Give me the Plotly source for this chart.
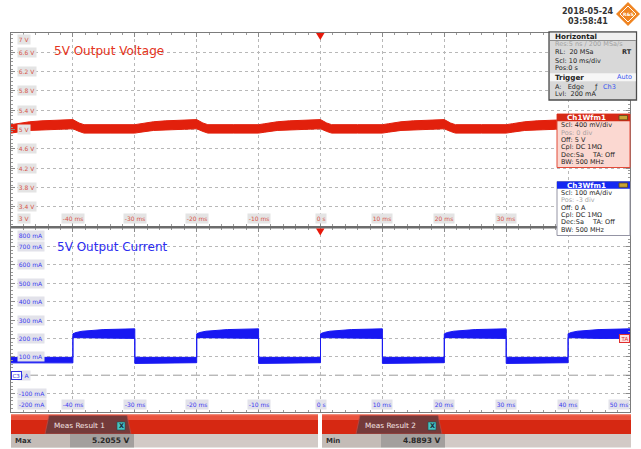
import plotly.graph_objects as go

# ---------------- data ----------------
time_ticks = [-40, -30, -20, -10, 0, 10, 20, 30, 40, 50]
time_labels = ["-40 ms", "-30 ms", "-20 ms", "-10 ms", "0 s", "10 ms", "20 ms", "30 ms", "40 ms", "50 ms"]

volt_ticks = [7, 6.6, 6.2, 5.8, 5.4, 5, 4.6, 4.2, 3.8, 3.4, 3]
volt_labels = ["7 V", "6.6 V", "6.2 V", "5.8 V", "5.4 V", "5 V", "4.6 V", "4.2 V", "3.8 V", "3.4 V", "3 V"]

curr_ticks = [800, 700, 600, 500, 400, 300, 200, 100, 0, -100, -200]
curr_labels = ["800 mA", "700 mA", "600 mA", "500 mA", "400 mA", "300 mA", "200 mA", "100 mA", "0 A", "-100 mA", "-200 mA"]

# voltage envelope (V): time (ms), upper and lower edge of the noisy trace
volt_t = [-50, -49, -47, -45, -42, -40, -39, -38.2, -34,
          -30, -29, -27, -25, -22, -20, -19, -18.2, -14,
          -10, -9, -7, -5, -2, 0, 1, 1.8, 6,
          10, 11, 13, 15, 18, 20, 21, 21.8, 26,
          30, 31, 33, 35, 38, 40, 41, 41.8, 46, 50]
volt_hi = [5.10, 5.12, 5.16, 5.18, 5.195, 5.205, 5.135, 5.10, 5.10,
           5.10, 5.12, 5.16, 5.18, 5.195, 5.205, 5.135, 5.10, 5.10,
           5.10, 5.12, 5.16, 5.18, 5.195, 5.205, 5.135, 5.10, 5.10,
           5.10, 5.12, 5.16, 5.18, 5.195, 5.205, 5.135, 5.10, 5.10,
           5.10, 5.12, 5.16, 5.18, 5.195, 5.205, 5.135, 5.10, 5.10, 5.10]
volt_lo = [4.925, 4.945, 4.98, 4.995, 5.005, 5.015, 4.96, 4.925, 4.925,
           4.925, 4.945, 4.98, 4.995, 5.005, 5.015, 4.96, 4.925, 4.925,
           4.925, 4.945, 4.98, 4.995, 5.005, 5.015, 4.96, 4.925, 4.925,
           4.925, 4.945, 4.98, 4.995, 5.005, 5.015, 4.96, 4.925, 4.925,
           4.925, 4.945, 4.98, 4.995, 5.005, 5.015, 4.96, 4.925, 4.925, 4.925]

# current envelope (mA)
curr_t = [-50, -40, -40, -39.5, -38.5, -37, -35, -30,
          -30, -29, -20,
          -20, -19.5, -18.5, -17, -15, -10,
          -10, -9, 0,
          0, 0.5, 1.5, 3, 5, 10,
          10, 11, 20,
          20, 20.5, 21.5, 23, 25, 30,
          30, 31, 40,
          40, 40.5, 41.5, 43, 45, 50]
curr_hi = [97, 97, 225, 232, 239, 244, 248, 252,
           98, 97, 97,
           225, 232, 239, 244, 248, 252,
           98, 97, 97,
           225, 232, 239, 244, 248, 252,
           98, 97, 97,
           225, 232, 239, 244, 248, 252,
           98, 97, 97,
           225, 232, 239, 244, 248, 252]
curr_lo = [67, 67, 204, 202, 200, 200, 200, 200,
           64, 67, 68,
           204, 202, 200, 200, 200, 200,
           64, 67, 68,
           204, 202, 200, 200, 200, 200,
           64, 67, 68,
           204, 202, 200, 200, 200, 200,
           64, 67, 68,
           204, 202, 200, 200, 200, 200]

trigger_level = 200
meas1_name, meas1_value = "Max", "5.2055 V"
meas2_name, meas2_value = "Min", "4.8893 V"

# ---------------- layout helpers ----------------
W, H = 641, 449
def px(x):
    return x / W
def py(y):
    return 1 - y / H

RED = "#e2200c"
BLUE = "#1818f2"
FONT = "DejaVu Sans"

fig = go.Figure()
fig.add_trace(go.Scatter(x=volt_t + volt_t[::-1], y=volt_hi + volt_lo[::-1],
                         fill="toself", fillcolor=RED, mode="lines",
                         line=dict(color=RED, width=1), xaxis="x", yaxis="y",
                         hoverinfo="skip", showlegend=False))
fig.add_trace(go.Scatter(x=curr_t + curr_t[::-1], y=curr_hi + curr_lo[::-1],
                         fill="toself", fillcolor=BLUE, mode="lines",
                         line=dict(color=BLUE, width=1), xaxis="x2", yaxis="y2",
                         hoverinfo="skip", showlegend=False))

xdom = [px(11), px(630)]
axis_common = dict(showgrid=True, gridcolor="#b8b8b8", griddash="dot", gridwidth=1,
                   zeroline=False, showticklabels=False, showline=True, mirror="ticks",
                   linecolor="#7c7c7c", linewidth=1, ticks="inside", ticklen=4,
                   tickcolor="#8a8a8a", tickwidth=1)
fig.update_layout(
    width=W, height=H, margin=dict(l=0, r=0, t=0, b=0),
    paper_bgcolor="white", plot_bgcolor="white", showlegend=False,
    xaxis=dict(domain=xdom, range=[-50, 50], dtick=10, tick0=0, anchor="y",
               minor=dict(ticks="inside", ticklen=2, dtick=2, tickcolor="#9a9a9a", showgrid=False),
               **axis_common),
    yaxis=dict(domain=[py(226), py(33)], range=[3, 7], dtick=0.4, tick0=3, anchor="x",
               minor=dict(ticks="inside", ticklen=2, dtick=0.08, tickcolor="#9a9a9a", showgrid=False),
               **axis_common),
    xaxis2=dict(domain=xdom, range=[-50, 50], dtick=10, tick0=0, anchor="y2",
                minor=dict(ticks="inside", ticklen=2, dtick=2, tickcolor="#9a9a9a", showgrid=False),
                **axis_common),
    yaxis2=dict(domain=[py(412), py(228)], range=[-200, 800], dtick=100, tick0=0, anchor="x2",
                minor=dict(ticks="inside", ticklen=2, dtick=20, tickcolor="#9a9a9a", showgrid=False),
                **axis_common),
)

shapes = []
ann = []

def rect(x0, y0, x1, y1, fill, line=None, lw=1):
    shapes.append(dict(type="rect", xref="paper", yref="paper", x0=px(x0), x1=px(x1),
                       y0=py(y1), y1=py(y0), fillcolor=fill, layer="above",
                       line=dict(color=line or fill, width=lw if line else 0)))

def path(points, fill, line=None, lw=1):
    d = "M " + " L ".join(f"{px(x):.5f},{py(y):.5f}" for x, y in points) + " Z"
    shapes.append(dict(type="path", xref="paper", yref="paper", path=d, fillcolor=fill,
                       layer="above", line=dict(color=line or fill, width=lw if line else 0)))

def txt(x, y, s, size=6.5, color="#1e1e1e", bold=False, anchor="left", **kw):
    ann.append(dict(x=px(x), y=py(y), xref="paper", yref="paper",
                    text=f"<b>{s}</b>" if bold else s, showarrow=False,
                    xanchor=anchor, yanchor="middle",
                    font=dict(size=size, color=color, family=FONT), **kw))

# zero-current reference line
shapes.append(dict(type="line", xref="x2", yref="y2", x0=-50, x1=50, y0=0, y1=0,
                   line=dict(color="#9c9c9c", width=1, dash="dash"), layer="below"))
# separator between panels
rect(11, 226, 630, 228.5, "#6c6c6c")

# trigger position markers
path([(316, 33), (324.5, 33), (320.3, 40)], "#e8180a")
path([(316, 228.5), (324.5, 228.5), (320.3, 235.5)], "#e8180a")

# ---- Horizontal / Trigger box ----
rect(549, 32, 636.5, 100, "#d8d8d8", "#4c4c4c", 1.3)
rect(550, 32.8, 635.8, 40.3, "#f0f0f0")
rect(550, 40.3, 635.8, 41, "#707070")
rect(550, 73.3, 635.8, 81.3, "#f6f6f6")
txt(552.5, 36.5, "Horizontal", size=7.2, bold=True, color="#202020")
txt(552.5, 44.2, "Res:5 ns / 200 MSa/s", color="#a2a2a2")
txt(552.5, 52.3, "RL:\u00a0 20 MSa")
txt(634, 52.3, "RT", bold=True, anchor="right", color="#303030")
txt(552.5, 60.5, "Scl: 10 ms/div")
txt(552.5, 68.5, "Pos:0 s")
txt(552.5, 77.3, "Trigger", size=7.2, bold=True, color="#202020")
txt(634, 77.3, "Auto", anchor="right", color="#3a56f0")
txt(552.5, 86.6, "A:\u00a0\u00a0 Edge")
txt(591.5, 86.6, "ƒ", size=7, color="#303030")
txt(601, 86.6, "Ch3", color="#3a56f0")
txt(552.5, 94.4, "Lvl:\u00a0 200 mA")

# ---- Ch1 box ----
rect(557, 114, 630, 167.5, "#fbd8d1", "#e24a38", 1)
rect(557, 114, 630, 121.3, "#d62a16")
rect(619, 115.5, 627.5, 119.8, "#c9a436", "#5a4a20", 0.8)
txt(586, 117.8, "Ch1Wfm1", size=7.2, bold=True, color="white", anchor="center")
ch_y1 = [125.3, 132.7, 140.1, 147.5, 154.9, 162.3]
txt(558.5, ch_y1[0], "Scl: 400 mV/div")
txt(558.5, ch_y1[1], "Pos: 0 div", color="#a8a0a0")
txt(558.5, ch_y1[2], "Off: 5 V")
txt(558.5, ch_y1[3], "Cpl: DC 1MΩ")
txt(558.5, ch_y1[4], "Dec:Sa")
txt(590, ch_y1[4], "TA: Off")
txt(558.5, ch_y1[5], "BW: 500 MHz")

# ---- Ch3 box ----
rect(557, 181.5, 630, 235.5, "#ffffff", "#9494a4", 1)
rect(557, 181.5, 630, 188.8, "#1428f2")
rect(619, 183, 627.5, 187.3, "#c9a436", "#5a4a20", 0.8)
txt(586, 185.2, "Ch3Wfm1", size=7.2, bold=True, color="white", anchor="center")
ch_y3 = [192.7, 200.1, 207.5, 214.9, 222.3, 229.7]
txt(558.5, ch_y3[0], "Scl: 100 mA/div")
txt(558.5, ch_y3[1], "Pos: -3 div", color="#a8a8a8")
txt(558.5, ch_y3[2], "Off: 0 A")
txt(558.5, ch_y3[3], "Cpl: DC 1MΩ")
txt(558.5, ch_y3[4], "Dec:Sa")
txt(590, ch_y3[4], "TA: Off")
txt(558.5, ch_y3[5], "BW: 500 MHz")

# ---- date & logo ----
txt(588, 11, "2018-05-24", size=8, bold=True, color="#333333", anchor="center")
txt(588, 21.3, "03:58:41", size=8, bold=True, color="#333333", anchor="center")
path([(628, 2), (640, 14), (628, 26), (616, 14)], "#f08522")
path([(628, 6), (636, 14), (628, 22), (620, 14)], "#f08522", "white", 1)
txt(628, 14.3, "R&S", size=4.5, bold=True, color="white", anchor="center")

# ---- measurement results ----
def meas_block(x0, x1, tab_x0, title, name, value):
    rect(x0, 414, x1, 434, "#d62812")
    rect(x0, 414, x1, 420, "#e9523d")
    rect(x0, 414, x1, 415.2, "#f38a78")
    path([(tab_x0, 434), (tab_x0 + 4, 415.5), (tab_x0 + 82, 415.5), (tab_x0 + 86, 434)],
         "#743a3a", "#b84a44", 0.8)
    txt(tab_x0 + 34, 425.6, title, size=7.3, color="#f6e6e6", anchor="center")
    rect(tab_x0 + 72, 422, tab_x0 + 80, 430, "#46c4c4", "#205050", 0.6)
    txt(tab_x0 + 76, 426.2, "X", size=6.5, bold=True, color="#1c2c3c", anchor="center")
    rect(x0, 434, x1, 447.5, "#d2cac6")
    rect(x0, 434, x0 + 59, 447.5, "#c4bcb7")
    rect(x0 + 59, 434, x0 + 123, 447.5, "#a39f9d")
    txt(x0 + 2, 440.7, name, size=7, bold=True, color="#303030")
    txt(x0 + 121, 440.7, value, size=7.5, bold=True, color="#282828", anchor="right")

meas_block(11, 318, 45, "Meas Result 1", meas1_name, meas1_value)
meas_block(322, 631, 356, "Meas Result 2", meas2_name, meas2_value)

# ---- panel titles ----
txt(52, 51, "5V Output Voltage", size=12, color="#e43420")
txt(55, 247, "5V Output Current", size=12, color="#2c2cf0")

# ---- axis tick labels (inside the grid, as on the scope) ----
LBL_BG = "#e4e4e4"
for v, s in zip(volt_ticks, volt_labels):
    a = dict(x=px(16.5), y=v, xref="paper", yref="y", text=s, showarrow=False,
             xanchor="left", yanchor="middle", bgcolor=LBL_BG, borderpad=0.8,
             font=dict(size=6, color="#d85448", family=FONT))
    if v == volt_ticks[0]:
        a.update(yanchor="top", yshift=-1)
    elif v == volt_ticks[-1]:
        a.update(yanchor="bottom", yshift=2)
    ann.append(a)
for v, s in zip(curr_ticks, curr_labels):
    a = dict(x=px(16.5), y=v, xref="paper", yref="y2", text=s, showarrow=False,
             xanchor="left", yanchor="middle", bgcolor="#e2e2ea", borderpad=0.8,
             font=dict(size=6, color="#3c3cf0", family=FONT))
    if v == curr_ticks[0]:
        a.update(yanchor="top", yshift=-2)
    elif v == curr_ticks[-1]:
        a.update(yanchor="bottom", yshift=2)
    ann.append(a)
for t, s in zip(time_ticks[:8], time_labels[:8]):
    ann.append(dict(x=t, y=3, xref="x", yref="y", text=s, showarrow=False,
                    xanchor="center", yanchor="bottom", yshift=2, bgcolor=LBL_BG, borderpad=0.8,
                    font=dict(size=6, color="#d85448", family=FONT)))
for t, s in zip(time_ticks, time_labels):
    ann.append(dict(x=t, y=-200, xref="x2", yref="y2", text=s, showarrow=False,
                    xanchor="right" if t == 50 else "center", yanchor="bottom", yshift=2,
                    bgcolor="#e2e2ea", borderpad=0.8,
                    font=dict(size=6, color="#3c3cf0", family=FONT)))

# channel ground marker and trigger level marker
ann.append(dict(x=px(16.5), y=0, xref="paper", yref="y2", text="C3", showarrow=False,
                xanchor="center", yanchor="middle", bgcolor="white", bordercolor="#3030e0",
                borderwidth=1, borderpad=0.5, font=dict(size=5.5, color="#2020e0", family=FONT)))
ann.append(dict(x=px(624), y=trigger_level, xref="paper", yref="y2", text="TA", showarrow=False,
                xanchor="center", yanchor="middle", bgcolor="#fde2e2", bordercolor="#e03030",
                borderwidth=1, borderpad=0.5, font=dict(size=5.5, color="#e03030", family=FONT)))

fig.update_layout(shapes=shapes, annotations=ann)
fig.write_html("out.html", config={"displayModeBar": False},
               post_script="document.body.style.margin='0';document.body.style.overflow='hidden';")
